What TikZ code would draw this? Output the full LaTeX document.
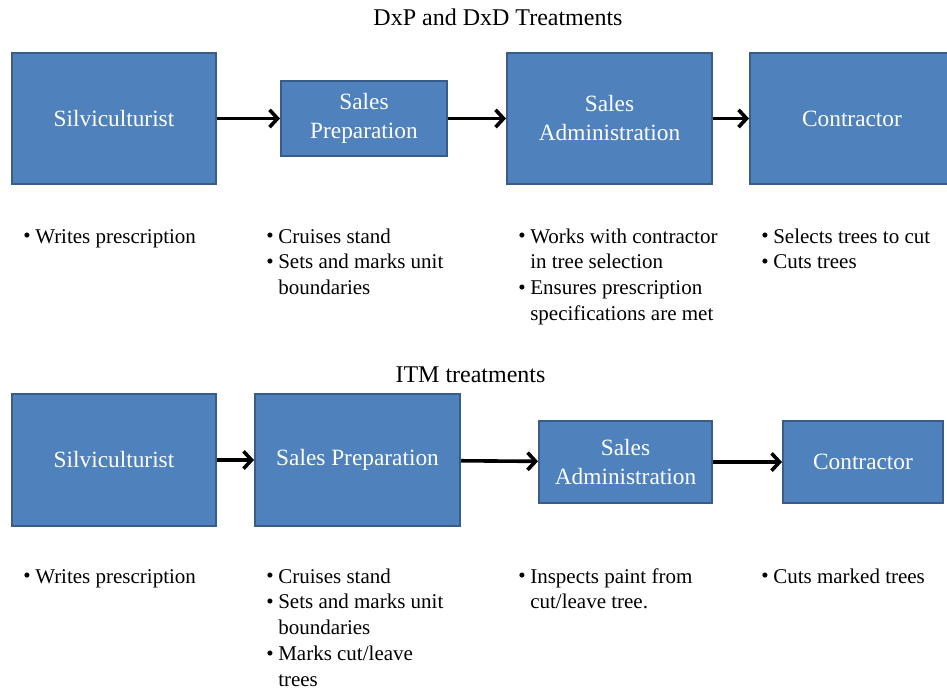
\documentclass[tikz,border=0pt]{standalone}
\usepackage{fontspec}
\setmainfont{Liberation Serif}
\usetikzlibrary{arrows.meta,positioning}
\definecolor{boxblue}{HTML}{4F81BD}
\definecolor{boxline}{HTML}{385D8A}
\tikzstyle{role}=[draw=boxline,fill=boxblue,line width=1.5pt,text=white,align=center,inner sep=0pt,font=\fontsize{17.5}{21.75}\selectfont]
\tikzstyle{duty}=[anchor=base west,inner sep=0pt,font=\fontsize{15.75}{19.4}\selectfont]
\tikzstyle{heading}=[anchor=base,inner sep=0pt,font=\fontsize{18}{21.6}\selectfont]
\tikzstyle{every edge}=[draw,line width=2.7pt,-{Straight Barb[length=6pt,width=13pt]}]
\newcommand{\bul}{\makebox[9pt][l]{\raisebox{0.3pt}{\textbullet}}}
\newcommand{\ind}{\makebox[9pt]{}}

\begin{document}
\begin{tikzpicture}[x=0.75pt,y=-0.75pt]
  \clip (0,0) rectangle (947,693);

  \node[heading] (t1) at (498,25) {DxP and DxD Treatments};
  \node[role,minimum width=153pt,minimum height=98.25pt]   (s1) at (114,118.5) {Silviculturist};
  \node[role,minimum width=124.5pt,minimum height=56.25pt] (p1) at (364,118.5) {Sales\\Preparation};
  \node[role,minimum width=153.75pt,minimum height=98.25pt] (a1) at (609.5,118.5) {Sales\\Administration};
  \node[role,minimum width=153pt,minimum height=98.25pt]   (c1) at (852,118.5) {Contractor};

  \path (s1) edge (p1)
        (p1) edge (a1)
        (a1) edge (c1);

  \node[duty] (d11) at (23,243) {\begin{tabular}[t]{@{}l@{}}\bul Writes prescription\end{tabular}};
  \node[duty] (d12) at (266,243) {\begin{tabular}[t]{@{}l@{}}\bul Cruises stand\\ \bul Sets and marks unit\\ \ind boundaries\end{tabular}};
  \node[duty] (d13) at (518,243) {\begin{tabular}[t]{@{}l@{}}\bul Works with contractor\\ \ind in tree selection\\ \bul Ensures prescription\\ \ind specifications are met\end{tabular}};
  \node[duty] (d14) at (761,243) {\begin{tabular}[t]{@{}l@{}}\bul Selects trees to cut\\ \bul Cuts trees\end{tabular}};

  \node[heading] (t2) at (470.5,382) {ITM treatments};
  \node[role,minimum width=153pt,minimum height=99pt]      (s2) at (114,460) {Silviculturist};
  \node[role,minimum width=153.75pt,minimum height=99pt]   (p2) at (357.5,460) {Sales Preparation};
  \node[role,minimum width=129.75pt,minimum height=61.5pt] (a2) at (625.5,462) {Sales\\Administration};
  \node[role,minimum width=120pt,minimum height=61.5pt]    (c2) at (863,462) {Contractor};

  \path (s2) edge (p2)
        (p2) edge (a2)
        (a2) edge (c2);

  \node[duty] (d21) at (23,583) {\begin{tabular}[t]{@{}l@{}}\bul Writes prescription\end{tabular}};
  \node[duty] (d22) at (266,583) {\begin{tabular}[t]{@{}l@{}}\bul Cruises stand\\ \bul Sets and marks unit\\ \ind boundaries\\ \bul Marks cut/leave\\ \ind trees\end{tabular}};
  \node[duty] (d23) at (518,583) {\begin{tabular}[t]{@{}l@{}}\bul Inspects paint from\\ \ind cut/leave tree.\end{tabular}};
  \node[duty] (d24) at (761,583) {\begin{tabular}[t]{@{}l@{}}\bul Cuts marked trees\end{tabular}};
\end{tikzpicture}
\end{document}
